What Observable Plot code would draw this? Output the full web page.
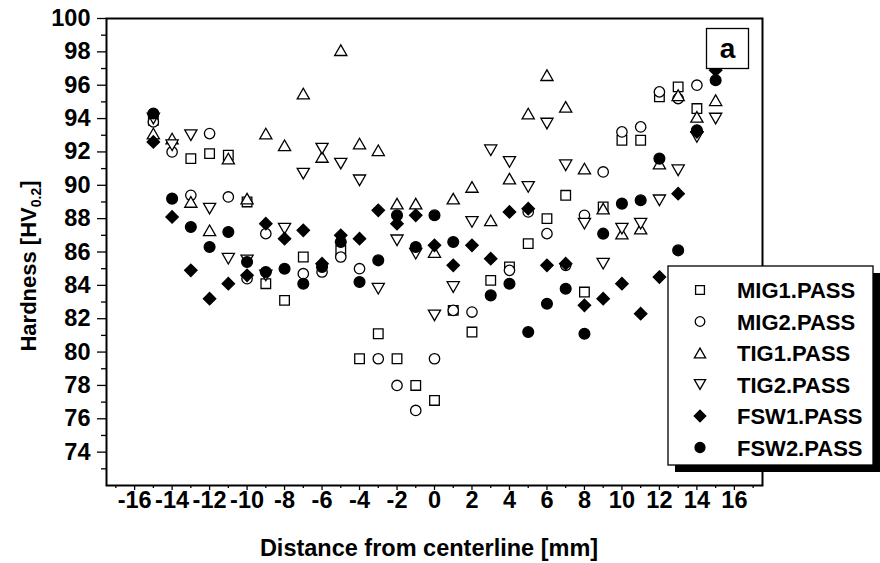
<!DOCTYPE html>
<html>
<head>
<meta charset="utf-8">
<script src="https://cdn.jsdelivr.net/npm/d3@7"></script>
<script src="https://cdn.jsdelivr.net/npm/@observablehq/plot@0.6"></script>
<style>
  body { margin: 0; background: #fff; }
  #chart { width: 880px; height: 563px; }
  svg text { font-family: "Liberation Sans", Arial, sans-serif; }
</style>
</head>
<body>
<div id="chart"></div>
<script>
// ---- data ----
const distance = [-15,-14,-13,-12,-11,-10,-9,-8,-7,-6,-5,-4,-3,-2,-1,0,1,2,3,4,5,6,7,8,9,10,11,12,13,14,15];
const mig1 = [93.9,null,91.6,91.9,91.8,89.0,84.1,83.1,85.7,null,86.1,79.6,81.1,79.6,78.0,77.1,82.5,81.2,84.3,85.1,86.5,88.0,89.4,83.6,88.7,92.7,92.7,95.3,95.9,94.6,97.5];
const mig2 = [93.8,92.0,89.4,93.1,89.3,84.4,87.1,null,84.7,84.8,85.7,85.0,79.6,78.0,76.5,79.6,82.5,82.4,null,84.9,88.4,87.1,85.2,88.2,90.8,93.2,93.5,95.6,95.2,96.0,97.3];
const tig1 = [93.1,92.8,89.0,87.3,91.6,89.2,93.1,92.4,95.5,91.7,98.1,92.5,92.1,88.9,88.9,86.0,89.2,89.9,87.9,90.4,94.3,96.6,94.7,91.0,88.6,87.1,87.4,91.3,95.4,94.1,95.1];
const tig2 = [94.0,92.4,93.0,88.6,85.6,85.5,84.6,87.4,90.7,92.2,91.3,90.3,83.8,86.7,85.9,82.2,83.9,87.8,92.1,91.4,89.9,93.7,91.2,87.7,85.3,87.4,87.7,89.1,90.9,92.9,94.0];
const fsw1 = [92.6,88.1,84.9,83.2,84.1,84.6,87.7,86.8,87.3,85.3,87.0,86.8,88.5,87.7,88.2,86.4,85.2,86.4,85.6,88.4,88.6,85.2,85.3,82.8,83.2,84.1,82.3,84.5,89.5,93.2,96.9];
const fsw2 = [94.3,89.2,87.5,86.3,87.2,85.4,84.8,85.0,84.1,85.1,86.6,84.2,85.5,88.2,86.3,88.2,86.6,null,83.4,84.1,81.2,82.9,83.8,81.1,87.1,88.9,89.1,91.6,86.1,93.3,96.3];
const seriesNames = ["MIG1.PASS","MIG2.PASS","TIG1.PASS","TIG2.PASS","FSW1.PASS","FSW2.PASS"];
const xTickLabels = [-16,-14,-12,-10,-8,-6,-4,-2,0,2,4,6,8,10,12,14,16];
const xMinorTicks = [-17,-15,-13,-11,-9,-7,-5,-3,-1,1,3,5,7,9,11,13,15,17];
const yTickLabels = [74,76,78,80,82,84,86,88,90,92,94,96,98,100];
const yMinorTicks = [73,75,77,79,81,83,85,87,89,91,93,95,97,99];
const panelLabel = "a";

// ---- custom symbols ----
const rad = s => Math.sqrt(s / Math.PI);
const symSquare = {draw(c, s) { const r = rad(s); c.moveTo(-r, -r); c.lineTo(r, -r); c.lineTo(r, r); c.lineTo(-r, r); c.closePath(); }};
const symCircle = {draw(c, s) { const r = rad(s); c.moveTo(r, 0); c.arc(0, 0, r, 0, 2 * Math.PI); c.closePath(); }};
const symUp = {draw(c, s) { const r = rad(s), h = r * 0.87; c.moveTo(0, -h); c.lineTo(r, h); c.lineTo(-r, h); c.closePath(); }};
const symDown = {draw(c, s) { const r = rad(s), h = r * 0.87; c.moveTo(0, h); c.lineTo(r, -h); c.lineTo(-r, -h); c.closePath(); }};
const symDiamond = {draw(c, s) { const r = rad(s); c.moveTo(0, -r); c.lineTo(r, 0); c.lineTo(0, r); c.lineTo(-r, 0); c.closePath(); }};

const seriesStyle = [
  {values: mig1, symbol: symSquare, r: 4.8, fill: "white"},
  {values: mig2, symbol: symCircle, r: 5.2, fill: "white"},
  {values: tig1, symbol: symUp, r: 6.1, fill: "white"},
  {values: tig2, symbol: symDown, r: 6.1, fill: "white"},
  {values: fsw1, symbol: symDiamond, r: 6.2, fill: "black"},
  {values: fsw2, symbol: symCircle, r: 5.4, fill: "black"}
];

const tables = seriesStyle.map(s =>
  distance.map((x, i) => ({x, y: s.values[i]})).filter(d => d.y != null)
);

const font = {fontSize: 23.5, fontWeight: "bold"};

const plot = Plot.plot({
  width: 880,
  height: 563,
  marginLeft: 106,
  marginRight: 118,
  marginTop: 18,
  marginBottom: 78,
  style: {fontFamily: "'Liberation Sans', Arial, sans-serif", background: "white"},
  x: {domain: [-17.5, 17.5]},
  y: {domain: [72, 100]},
  marks: [
    Plot.axisX(xMinorTicks, {tickSize: 3, text: null, strokeWidth: 1.3, label: null}),
    Plot.axisX(xTickLabels, {tickSize: 5, tickPadding: 1, strokeWidth: 1.3, label: null, ...font, tickFormat: d => d.toString()}),
    Plot.axisY(yMinorTicks, {tickSize: 5, text: null, strokeWidth: 1.3, label: null}),
    Plot.axisY(yTickLabels, {tickSize: 9, tickPadding: 7, strokeWidth: 1.3, label: null, ...font, tickFormat: d => d.toString()}),
    ...seriesStyle.map((s, k) => Plot.dot(tables[k], {
      x: "x", y: "y", symbol: s.symbol, r: s.r,
      fill: s.fill, stroke: "black", strokeWidth: 1.3
    })),
    Plot.frame({stroke: "black", strokeWidth: 2})
  ]
});

document.getElementById("chart").appendChild(plot);

// ---- annotations: axis titles, legend, panel label ----
const svg = d3.select(plot);
const ff = "'Liberation Sans', Arial, sans-serif";

svg.append("text")
  .attr("x", 429).attr("y", 556)
  .attr("text-anchor", "middle")
  .attr("font-family", ff).attr("font-size", 23.5).attr("font-weight", "bold")
  .text("Distance from centerline [mm]");

const yt = svg.append("text")
  .attr("transform", "translate(36,266) rotate(-90)")
  .attr("text-anchor", "middle")
  .attr("font-family", ff).attr("font-size", 22).attr("font-weight", "bold");
yt.append("tspan").text("Hardness [HV");
yt.append("tspan").attr("font-size", 14).attr("dy", 5).text("0.2");
yt.append("tspan").attr("dy", -5).text("]");

// panel label box
svg.append("rect").attr("x", 706.5).attr("y", 28.5).attr("width", 42).attr("height", 40)
  .attr("fill", "white").attr("stroke", "black").attr("stroke-width", 1.3);
svg.append("text").attr("x", 727.5).attr("y", 57.5).attr("text-anchor", "middle")
  .attr("font-family", ff).attr("font-size", 28).attr("font-weight", "bold").text(panelLabel);

// legend
const lg = svg.append("g");
lg.append("rect").attr("x", 675).attr("y", 273).attr("width", 205).attr("height", 199).attr("fill", "black");
lg.append("rect").attr("x", 668).attr("y", 266).attr("width", 205).attr("height", 199)
  .attr("fill", "white").attr("stroke", "black").attr("stroke-width", 1.3);
seriesNames.forEach((name, k) => {
  const cy = 290 + k * 31.5;
  const s = seriesStyle[k];
  const p = d3.path();
  s.symbol.draw(p, Math.PI * s.r * s.r * 0.85);
  lg.append("path").attr("d", p.toString())
    .attr("transform", `translate(700,${cy})`)
    .attr("fill", s.fill).attr("stroke", "black").attr("stroke-width", 1.3);
  lg.append("text").attr("x", 737).attr("y", cy + 8)
    .attr("text-anchor", "start")
    .attr("font-family", ff).attr("font-size", 22).attr("font-weight", "bold").text(name);
});
</script>
</body>
</html>
